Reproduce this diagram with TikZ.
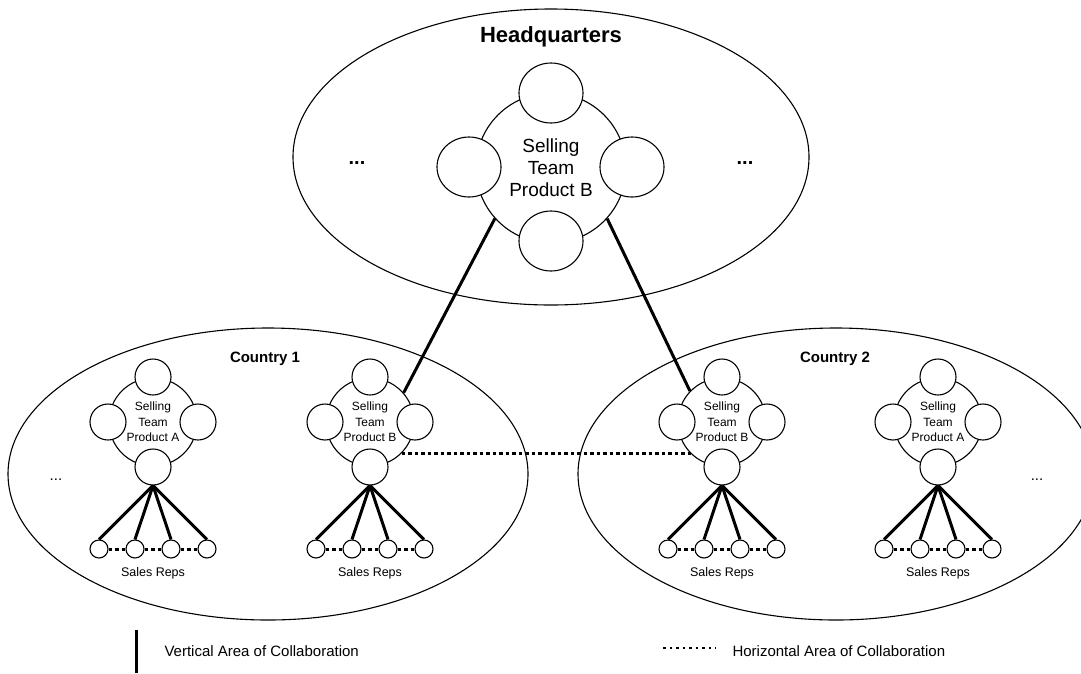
\documentclass[tikz,border=0pt]{standalone}
\usepackage{fontspec}
\setmainfont{Liberation Sans}
\usetikzlibrary{shapes.geometric}
\newcommand\teamcluster[3]{%
  \node[hub, minimum size=88pt, font=\fontsize{12}{15.5}\selectfont] (#1) at (#2,422) {Selling\\Team\\Product #3};
  \node[member] (#1t) at (#2,377) {};
  \node[member] (#1l) at ({#2-45},422) {};
  \node[member] (#1r) at ({#2+45},422) {};
  \node[member] (#1b) at (#2,467) {};
  \node[rep] (#1p1) at ({#2-54},549) {};
  \node[rep] (#1p2) at ({#2-18},549) {};
  \node[rep] (#1p3) at ({#2+18},549) {};
  \node[rep] (#1p4) at ({#2+54},549) {};
  \draw[vline] (#1b.south) -- (#1p1.north);
  \draw[vline] (#1b.south) -- (#1p2.north);
  \draw[vline] (#1b.south) -- (#1p3.north);
  \draw[vline] (#1b.south) -- (#1p4.north);
  \draw[hline] (#1p1.east) -- (#1p2.west);
  \draw[hline] (#1p2.east) -- (#1p3.west);
  \draw[hline] (#1p3.east) -- (#1p4.west);
  \node[font=\fontsize{12.5}{15}\selectfont] (#1lab) at (#2,573) {Sales Reps};
}
\begin{document}
\begin{tikzpicture}[x=1pt,y=-1pt,
  outline/.style={draw, line width=1.1pt},
  region/.style={outline, ellipse, inner sep=0pt},
  hub/.style={outline, circle, inner sep=0pt, fill=white, align=center},
  member/.style={outline, circle, inner sep=0pt, fill=white, minimum size=36pt},
  hqmember/.style={outline, ellipse, inner sep=0pt, fill=white, minimum width=64pt, minimum height=60pt},
  rep/.style={outline, circle, inner sep=0pt, fill=white, minimum size=18pt},
  vline/.style={line width=3pt},
  hline/.style={line width=3pt, dash pattern=on 3.5pt off 3pt},
  title/.style={font=\bfseries\fontsize{15}{18}\selectfont},
  legendtext/.style={font=\fontsize{15}{18}\selectfont, anchor=west},
]
\useasboundingbox (0,0) rectangle (1081,673);
\begin{scope}
\clip (0,0) rectangle (1081,673);
% regions
\node[region, minimum width=516pt, minimum height=296pt] (hq) at (551,157) {};
\node[region, minimum width=520pt, minimum height=292pt] (c1) at (268,474) {};
\node[region, minimum width=516pt, minimum height=292pt] (c2) at (836,474) {};
\end{scope}
% headquarters
\node[font=\bfseries\fontsize{22}{26}\selectfont] (hqtitle) at (551,37) {Headquarters};
\node[hub, minimum size=150pt, font=\fontsize{19}{22}\selectfont] (hqhub) at (551,168) {Selling\\Team\\Product B};
\node[hqmember] (hqt) at (551,93) {};
\node[hqmember] (hql) at (469,167) {};
\node[hqmember] (hqr) at (632,167) {};
\node[hqmember] (hqb) at (551,241) {};
\node[font=\bfseries\fontsize{20}{24}\selectfont, anchor=base] (hqdl) at (357,164) {...};
\node[font=\bfseries\fontsize{20}{24}\selectfont, anchor=base] (hqdr) at (745,164) {...};
% countries
\node[title] (c1title) at (265,359) {Country 1};
\node[title] (c2title) at (835,359) {Country 2};
\node[font=\fontsize{15}{18}\selectfont, anchor=base] (c1dots) at (56,480) {...};
\node[font=\fontsize{15}{18}\selectfont, anchor=base] (c2dots) at (1037,480) {...};
\teamcluster{ca}{153}{A}
\teamcluster{cb}{370}{B}
\teamcluster{cc}{722}{B}
\teamcluster{cd}{938}{A}
% collaboration links
\draw[vline] (hqhub.-138) -- (cb.41);
\draw[vline] (hqhub.-42) -- (cc.136);
\draw[hline] (cb.-45) -- (cc.-135);
% legend
\coordinate (lv1) at (136,630);
\coordinate (lv2) at (136,673);
\draw[vline] (lv1) -- (lv2);
\node[legendtext] (lvtext) at (161,651) {Vertical Area of Collaboration};
\coordinate (lh1) at (663,648);
\coordinate (lh2) at (716,648);
\draw[hline, line width=2.5pt, dash pattern=on 2.5pt off 4pt] (lh1) -- (lh2);
\node[legendtext] (lhtext) at (729,651) {Horizontal Area of Collaboration};
\end{tikzpicture}
\end{document}
